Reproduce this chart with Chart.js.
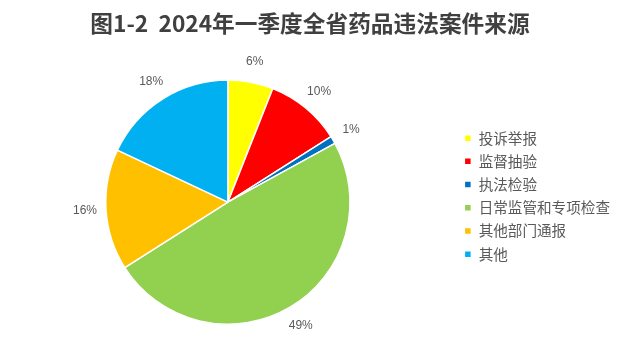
<!DOCTYPE html>
<html lang="zh">
<head>
    <meta charset="UTF-8">
    <title>2024年一季度全省药品违法案件来源</title>
    <script src="https://cdn.jsdelivr.net/npm/chart.js"></script>
    <style>
        body { margin: 0; background: #fff; }
        #pie { display: block; }
    </style>
</head>
<body>
    <canvas id="pie" width="628" height="358"></canvas>
    <script>
        // 数据
        const categories = ['投诉举报', '监督抽验', '执法检验', '日常监管和专项检查', '其他部门通报', '其他'];
        const shares = [6, 10, 1, 49, 16, 18];
        const sliceColors = ['#FFFF00', '#FF0000', '#0070C0', '#92D050', '#FFC000', '#00B0F0'];

        // 扇区外侧的百分比标签
        const outsideLabels = {
            id: 'outsideLabels',
            afterDatasetsDraw(chart) {
                const ctx = chart.ctx;
                const arcs = chart.getDatasetMeta(0).data;
                ctx.save();
                ctx.font = '12px "Liberation Sans", Arial, sans-serif';
                ctx.fillStyle = '#595959';
                ctx.textAlign = 'center';
                ctx.textBaseline = 'middle';
                arcs.forEach((arc, i) => {
                    const p = arc.getProps(['x', 'y', 'startAngle', 'endAngle', 'outerRadius'], true);
                    const mid = (p.startAngle + p.endAngle) / 2;
                    const r = p.outerRadius + 21;
                    ctx.fillText(shares[i] + '%', p.x + Math.cos(mid) * r, p.y + Math.sin(mid) * r);
                });
                ctx.restore();
            }
        };

        new Chart(document.getElementById('pie'), {
            type: 'pie',
            data: {
                labels: categories,
                datasets: [{
                    data: shares,
                    backgroundColor: sliceColors,
                    borderColor: '#ffffff',
                    borderWidth: 1.5
                }]
            },
            options: {
                responsive: false,
                animation: false,
                layout: { padding: { top: 10, bottom: 33, left: 0, right: 8 } },
                plugins: {
                    title: {
                        display: true,
                        text: '图1-2  2024年一季度全省药品违法案件来源',
                        color: '#404040',
                        font: { size: 22.7, weight: 'bold', family: '"Noto Sans CJK SC", sans-serif' },
                        padding: { top: 0, bottom: 42 }
                    },
                    legend: {
                        position: 'right',
                        fullSize: false,
                        align: 'start',
                        // 空白标题只用来把图例往下推
                        title: {
                            display: true,
                            text: ' ',
                            font: { size: 10 },
                            padding: { top: 31, bottom: 0 }
                        },
                        labels: {
                            boxWidth: 7,
                            boxHeight: 7,
                            padding: 8.6,
                            color: '#595959',
                            font: { size: 14.6, family: '"Noto Sans CJK SC", sans-serif' }
                        }
                    },
                    tooltip: { enabled: false }
                }
            },
            plugins: [outsideLabels]
        });
    </script>
</body>
</html>
